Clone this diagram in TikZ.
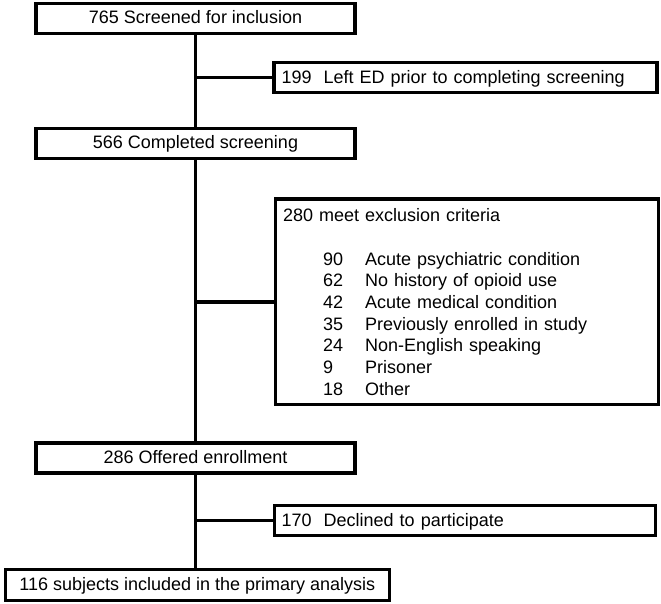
\documentclass[tikz,border=0pt]{standalone}
\usepackage{fontspec}
\setmainfont{Liberation Sans}
\usetikzlibrary{positioning,calc}

\begin{document}
\begin{tikzpicture}[x=1pt, y=-1pt,
    box/.style={draw, line width=3.3pt, minimum width=319pt, minimum height=30pt, inner sep=0pt, text height=15pt, text depth=4pt, font=\fontsize{18}{21.67}\selectfont},
    sidebox/.style={box, minimum width=383pt, text width=368pt, inner xsep=7.5pt, align=left},
    listbox/.style={draw, line width=3.3pt, anchor=north west, text width=368pt, inner xsep=7.5pt, inner ysep=9.5pt, align=left, font=\fontsize{18}{21.67}\selectfont},
    link/.style={line width=3.2pt}]
  \useasboundingbox (0,0) rectangle (661,604);

  \node[box] (scr) at (195.5,18.3) {765 Screened for inclusion};
  \node[sidebox] (left) at (465.5,77.6) {199\ \ Left ED prior to completing screening};
  \node[box] (comp) at (195.5,143.2) {566 Completed screening};
  \node[listbox] (excl) at (274,197.5) {280 meet exclusion criteria\\[21.67pt]
    \hspace*{40pt}\makebox[42pt][l]{90}Acute psychiatric condition\\
    \hspace*{40pt}\makebox[42pt][l]{62}No history of opioid use\\
    \hspace*{40pt}\makebox[42pt][l]{42}Acute medical condition\\
    \hspace*{40pt}\makebox[42pt][l]{35}Previously enrolled in study\\
    \hspace*{40pt}\makebox[42pt][l]{24}Non-English speaking\\
    \hspace*{40pt}\makebox[42pt][l]{9}Prisoner\\
    \hspace*{40pt}\makebox[42pt][l]{18}Other};
  \node[box] (off) at (195.5,458) {286 Offered enrollment};
  \node[sidebox, minimum width=381pt, text width=366pt] (decl) at (464.7,520.7) {170\ \ Declined to participate};
  \node[box, minimum width=384pt, minimum height=31pt] (incl) at (197.3,585) {116 subjects included in the primary analysis};

  % trunk
  \draw[link] (scr) -- (comp);
  \draw[link] (comp) -- (off);
  \draw[link] (off.south) -- (off.south |- incl.north);

  % side branches
  \draw[link] (left.west) -- (left.west -| scr.south);
  \draw[link] (excl.west) -- (excl.west -| comp.south);
  \draw[link] (decl.west) -- (decl.west -| off.south);
\end{tikzpicture}
\end{document}
